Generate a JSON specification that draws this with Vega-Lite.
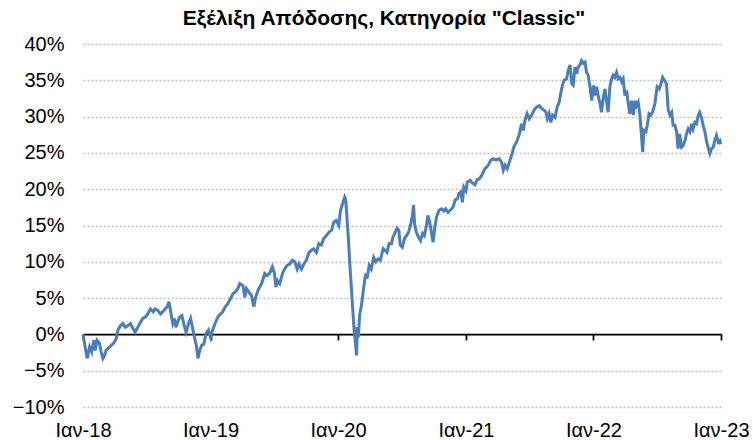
{
  "$schema": "https://vega.github.io/schema/vega-lite/v6.json",
  "width": 638,
  "height": 363,
  "autosize": {"type": "none"},
  "padding": {"left": 83, "top": 44, "right": 32, "bottom": 33},
  "background": "white",
  "title": {
    "text": "Εξέλιξη Απόδοσης, Κατηγορία \"Classic\"",
    "font": "Liberation Sans",
    "fontSize": 21,
    "fontWeight": "bold",
    "color": "#000000",
    "anchor": "middle",
    "dx": -18,
    "offset": 5
  },
  "config": {
    "view": {"stroke": null},
    "axis": {"labelFont": "Liberation Sans", "labelFontSize": 20, "labelColor": "#000000"}
  },
  "data": {
    "values": [
      {"date": "2018-01-01", "ret": 0.0},
      {"date": "2018-01-07", "ret": -0.017},
      {"date": "2018-01-13", "ret": -0.033},
      {"date": "2018-01-20", "ret": -0.017},
      {"date": "2018-01-26", "ret": -0.024},
      {"date": "2018-02-01", "ret": -0.008},
      {"date": "2018-02-05", "ret": -0.022},
      {"date": "2018-02-10", "ret": -0.008},
      {"date": "2018-02-17", "ret": -0.012},
      {"date": "2018-02-22", "ret": -0.024},
      {"date": "2018-02-27", "ret": -0.033},
      {"date": "2018-03-04", "ret": -0.029},
      {"date": "2018-03-08", "ret": -0.022},
      {"date": "2018-03-15", "ret": -0.019},
      {"date": "2018-03-23", "ret": -0.015},
      {"date": "2018-03-30", "ret": -0.012},
      {"date": "2018-04-06", "ret": -0.006},
      {"date": "2018-04-11", "ret": 0.006},
      {"date": "2018-04-18", "ret": 0.012},
      {"date": "2018-04-25", "ret": 0.015},
      {"date": "2018-05-02", "ret": 0.010},
      {"date": "2018-05-09", "ret": 0.012},
      {"date": "2018-05-17", "ret": 0.015},
      {"date": "2018-05-24", "ret": 0.008},
      {"date": "2018-05-30", "ret": 0.003},
      {"date": "2018-06-07", "ret": 0.010},
      {"date": "2018-06-15", "ret": 0.017},
      {"date": "2018-06-21", "ret": 0.022},
      {"date": "2018-06-28", "ret": 0.024},
      {"date": "2018-07-05", "ret": 0.028},
      {"date": "2018-07-13", "ret": 0.035},
      {"date": "2018-07-21", "ret": 0.031},
      {"date": "2018-07-26", "ret": 0.035},
      {"date": "2018-08-03", "ret": 0.033},
      {"date": "2018-08-11", "ret": 0.028},
      {"date": "2018-08-17", "ret": 0.031},
      {"date": "2018-08-24", "ret": 0.035},
      {"date": "2018-08-30", "ret": 0.038},
      {"date": "2018-09-04", "ret": 0.045},
      {"date": "2018-09-10", "ret": 0.028},
      {"date": "2018-09-15", "ret": 0.015},
      {"date": "2018-09-20", "ret": 0.022},
      {"date": "2018-09-24", "ret": 0.010},
      {"date": "2018-09-29", "ret": 0.017},
      {"date": "2018-10-05", "ret": 0.024},
      {"date": "2018-10-11", "ret": 0.026},
      {"date": "2018-10-16", "ret": 0.015},
      {"date": "2018-10-23", "ret": 0.003},
      {"date": "2018-10-30", "ret": 0.015},
      {"date": "2018-11-05", "ret": 0.022},
      {"date": "2018-11-10", "ret": 0.010},
      {"date": "2018-11-16", "ret": -0.004},
      {"date": "2018-11-22", "ret": -0.017},
      {"date": "2018-11-26", "ret": -0.033},
      {"date": "2018-12-01", "ret": -0.022},
      {"date": "2018-12-07", "ret": -0.015},
      {"date": "2018-12-13", "ret": -0.013},
      {"date": "2018-12-19", "ret": 0.001},
      {"date": "2018-12-26", "ret": 0.006},
      {"date": "2019-01-01", "ret": -0.004},
      {"date": "2019-01-07", "ret": 0.006},
      {"date": "2019-01-14", "ret": 0.015},
      {"date": "2019-01-22", "ret": 0.024},
      {"date": "2019-01-29", "ret": 0.028},
      {"date": "2019-02-05", "ret": 0.031},
      {"date": "2019-02-12", "ret": 0.038},
      {"date": "2019-02-19", "ret": 0.042},
      {"date": "2019-02-27", "ret": 0.049},
      {"date": "2019-03-06", "ret": 0.056},
      {"date": "2019-03-12", "ret": 0.058},
      {"date": "2019-03-20", "ret": 0.063},
      {"date": "2019-03-26", "ret": 0.070},
      {"date": "2019-04-04", "ret": 0.067},
      {"date": "2019-04-09", "ret": 0.051},
      {"date": "2019-04-14", "ret": 0.063},
      {"date": "2019-04-21", "ret": 0.058},
      {"date": "2019-04-28", "ret": 0.054},
      {"date": "2019-05-05", "ret": 0.038},
      {"date": "2019-05-10", "ret": 0.051},
      {"date": "2019-05-17", "ret": 0.061},
      {"date": "2019-05-24", "ret": 0.067},
      {"date": "2019-05-30", "ret": 0.074},
      {"date": "2019-06-05", "ret": 0.084},
      {"date": "2019-06-12", "ret": 0.081},
      {"date": "2019-06-19", "ret": 0.084},
      {"date": "2019-06-27", "ret": 0.093},
      {"date": "2019-07-03", "ret": 0.084},
      {"date": "2019-07-07", "ret": 0.065},
      {"date": "2019-07-12", "ret": 0.074},
      {"date": "2019-07-18", "ret": 0.070},
      {"date": "2019-07-26", "ret": 0.084},
      {"date": "2019-08-01", "ret": 0.090},
      {"date": "2019-08-08", "ret": 0.095},
      {"date": "2019-08-16", "ret": 0.097},
      {"date": "2019-08-23", "ret": 0.102},
      {"date": "2019-08-30", "ret": 0.100},
      {"date": "2019-09-06", "ret": 0.090},
      {"date": "2019-09-11", "ret": 0.097},
      {"date": "2019-09-18", "ret": 0.090},
      {"date": "2019-09-25", "ret": 0.097},
      {"date": "2019-10-02", "ret": 0.102},
      {"date": "2019-10-10", "ret": 0.113},
      {"date": "2019-10-17", "ret": 0.116},
      {"date": "2019-10-23", "ret": 0.118},
      {"date": "2019-10-31", "ret": 0.113},
      {"date": "2019-11-07", "ret": 0.125},
      {"date": "2019-11-14", "ret": 0.123},
      {"date": "2019-11-21", "ret": 0.132},
      {"date": "2019-11-29", "ret": 0.136},
      {"date": "2019-12-06", "ret": 0.141},
      {"date": "2019-12-13", "ret": 0.143},
      {"date": "2019-12-20", "ret": 0.155},
      {"date": "2019-12-27", "ret": 0.157},
      {"date": "2020-01-03", "ret": 0.150},
      {"date": "2020-01-08", "ret": 0.171},
      {"date": "2020-01-14", "ret": 0.180},
      {"date": "2020-01-20", "ret": 0.189},
      {"date": "2020-01-23", "ret": 0.185},
      {"date": "2020-01-27", "ret": 0.157},
      {"date": "2020-01-31", "ret": 0.129},
      {"date": "2020-02-03", "ret": 0.102},
      {"date": "2020-02-08", "ret": 0.065},
      {"date": "2020-02-13", "ret": 0.028},
      {"date": "2020-02-16", "ret": 0.006},
      {"date": "2020-02-20", "ret": -0.013},
      {"date": "2020-02-23", "ret": -0.029},
      {"date": "2020-02-25", "ret": 0.010},
      {"date": "2020-02-28", "ret": -0.004},
      {"date": "2020-03-03", "ret": 0.028},
      {"date": "2020-03-08", "ret": 0.040},
      {"date": "2020-03-14", "ret": 0.063},
      {"date": "2020-03-20", "ret": 0.084},
      {"date": "2020-03-24", "ret": 0.077},
      {"date": "2020-03-30", "ret": 0.095},
      {"date": "2020-04-05", "ret": 0.090},
      {"date": "2020-04-12", "ret": 0.106},
      {"date": "2020-04-18", "ret": 0.100},
      {"date": "2020-04-24", "ret": 0.104},
      {"date": "2020-05-01", "ret": 0.102},
      {"date": "2020-05-09", "ret": 0.118},
      {"date": "2020-05-14", "ret": 0.116},
      {"date": "2020-05-20", "ret": 0.113},
      {"date": "2020-05-26", "ret": 0.125},
      {"date": "2020-06-02", "ret": 0.125},
      {"date": "2020-06-06", "ret": 0.134},
      {"date": "2020-06-13", "ret": 0.141},
      {"date": "2020-06-18", "ret": 0.146},
      {"date": "2020-06-23", "ret": 0.143},
      {"date": "2020-06-27", "ret": 0.123},
      {"date": "2020-07-03", "ret": 0.120},
      {"date": "2020-07-09", "ret": 0.132},
      {"date": "2020-07-15", "ret": 0.136},
      {"date": "2020-07-21", "ret": 0.141},
      {"date": "2020-07-27", "ret": 0.152},
      {"date": "2020-08-01", "ret": 0.164},
      {"date": "2020-08-04", "ret": 0.178},
      {"date": "2020-08-07", "ret": 0.152},
      {"date": "2020-08-12", "ret": 0.141},
      {"date": "2020-08-18", "ret": 0.134},
      {"date": "2020-08-24", "ret": 0.129},
      {"date": "2020-08-30", "ret": 0.139},
      {"date": "2020-09-04", "ret": 0.136},
      {"date": "2020-09-10", "ret": 0.150},
      {"date": "2020-09-14", "ret": 0.164},
      {"date": "2020-09-19", "ret": 0.155},
      {"date": "2020-09-24", "ret": 0.141},
      {"date": "2020-09-29", "ret": 0.127},
      {"date": "2020-10-04", "ret": 0.148},
      {"date": "2020-10-09", "ret": 0.162},
      {"date": "2020-10-16", "ret": 0.171},
      {"date": "2020-10-23", "ret": 0.173},
      {"date": "2020-10-30", "ret": 0.170},
      {"date": "2020-11-04", "ret": 0.173},
      {"date": "2020-11-11", "ret": 0.168},
      {"date": "2020-11-17", "ret": 0.171},
      {"date": "2020-11-25", "ret": 0.175},
      {"date": "2020-12-01", "ret": 0.185},
      {"date": "2020-12-08", "ret": 0.187},
      {"date": "2020-12-12", "ret": 0.194},
      {"date": "2020-12-17", "ret": 0.196},
      {"date": "2020-12-22", "ret": 0.182},
      {"date": "2020-12-26", "ret": 0.203},
      {"date": "2021-01-01", "ret": 0.198},
      {"date": "2021-01-05", "ret": 0.210},
      {"date": "2021-01-13", "ret": 0.212},
      {"date": "2021-01-20", "ret": 0.208},
      {"date": "2021-01-27", "ret": 0.206},
      {"date": "2021-02-02", "ret": 0.213},
      {"date": "2021-02-08", "ret": 0.214},
      {"date": "2021-02-15", "ret": 0.219},
      {"date": "2021-02-24", "ret": 0.228},
      {"date": "2021-03-06", "ret": 0.233},
      {"date": "2021-03-13", "ret": 0.240},
      {"date": "2021-03-20", "ret": 0.242},
      {"date": "2021-03-28", "ret": 0.240},
      {"date": "2021-04-06", "ret": 0.242},
      {"date": "2021-04-13", "ret": 0.237},
      {"date": "2021-04-18", "ret": 0.226},
      {"date": "2021-04-23", "ret": 0.233},
      {"date": "2021-04-29", "ret": 0.228},
      {"date": "2021-05-05", "ret": 0.237},
      {"date": "2021-05-12", "ret": 0.247},
      {"date": "2021-05-18", "ret": 0.258},
      {"date": "2021-05-26", "ret": 0.265},
      {"date": "2021-06-03", "ret": 0.276},
      {"date": "2021-06-09", "ret": 0.290},
      {"date": "2021-06-14", "ret": 0.281},
      {"date": "2021-06-19", "ret": 0.295},
      {"date": "2021-06-25", "ret": 0.304},
      {"date": "2021-07-01", "ret": 0.297},
      {"date": "2021-07-08", "ret": 0.302},
      {"date": "2021-07-15", "ret": 0.309},
      {"date": "2021-07-22", "ret": 0.313},
      {"date": "2021-07-30", "ret": 0.315},
      {"date": "2021-08-06", "ret": 0.311},
      {"date": "2021-08-12", "ret": 0.309},
      {"date": "2021-08-18", "ret": 0.306},
      {"date": "2021-08-22", "ret": 0.297},
      {"date": "2021-08-27", "ret": 0.304},
      {"date": "2021-09-01", "ret": 0.292},
      {"date": "2021-09-06", "ret": 0.302},
      {"date": "2021-09-13", "ret": 0.299},
      {"date": "2021-09-19", "ret": 0.313},
      {"date": "2021-09-25", "ret": 0.320},
      {"date": "2021-09-29", "ret": 0.331},
      {"date": "2021-10-04", "ret": 0.343},
      {"date": "2021-10-09", "ret": 0.350},
      {"date": "2021-10-16", "ret": 0.352},
      {"date": "2021-10-21", "ret": 0.364},
      {"date": "2021-10-26", "ret": 0.371},
      {"date": "2021-10-31", "ret": 0.345},
      {"date": "2021-11-04", "ret": 0.343},
      {"date": "2021-11-09", "ret": 0.368},
      {"date": "2021-11-14", "ret": 0.359},
      {"date": "2021-11-18", "ret": 0.368},
      {"date": "2021-11-23", "ret": 0.371},
      {"date": "2021-11-28", "ret": 0.377},
      {"date": "2021-12-03", "ret": 0.373},
      {"date": "2021-12-08", "ret": 0.375},
      {"date": "2021-12-12", "ret": 0.361},
      {"date": "2021-12-17", "ret": 0.357},
      {"date": "2021-12-22", "ret": 0.341},
      {"date": "2021-12-27", "ret": 0.322},
      {"date": "2022-01-01", "ret": 0.343},
      {"date": "2022-01-05", "ret": 0.329},
      {"date": "2022-01-10", "ret": 0.341},
      {"date": "2022-01-15", "ret": 0.327},
      {"date": "2022-01-19", "ret": 0.320},
      {"date": "2022-01-24", "ret": 0.306},
      {"date": "2022-01-29", "ret": 0.327},
      {"date": "2022-02-03", "ret": 0.338},
      {"date": "2022-02-07", "ret": 0.322},
      {"date": "2022-02-12", "ret": 0.306},
      {"date": "2022-02-17", "ret": 0.341},
      {"date": "2022-02-22", "ret": 0.352},
      {"date": "2022-02-26", "ret": 0.357},
      {"date": "2022-03-03", "ret": 0.354},
      {"date": "2022-03-08", "ret": 0.361},
      {"date": "2022-03-13", "ret": 0.352},
      {"date": "2022-03-18", "ret": 0.354},
      {"date": "2022-03-23", "ret": 0.348},
      {"date": "2022-03-27", "ret": 0.352},
      {"date": "2022-04-01", "ret": 0.329},
      {"date": "2022-04-06", "ret": 0.336},
      {"date": "2022-04-10", "ret": 0.320},
      {"date": "2022-04-15", "ret": 0.304},
      {"date": "2022-04-20", "ret": 0.322},
      {"date": "2022-04-25", "ret": 0.302},
      {"date": "2022-04-30", "ret": 0.322},
      {"date": "2022-05-04", "ret": 0.315},
      {"date": "2022-05-09", "ret": 0.320},
      {"date": "2022-05-14", "ret": 0.302},
      {"date": "2022-05-19", "ret": 0.270},
      {"date": "2022-05-22", "ret": 0.251},
      {"date": "2022-05-25", "ret": 0.281},
      {"date": "2022-05-31", "ret": 0.279},
      {"date": "2022-06-04", "ret": 0.288},
      {"date": "2022-06-09", "ret": 0.304},
      {"date": "2022-06-14", "ret": 0.302},
      {"date": "2022-06-19", "ret": 0.306},
      {"date": "2022-06-26", "ret": 0.318},
      {"date": "2022-07-02", "ret": 0.341},
      {"date": "2022-07-08", "ret": 0.338},
      {"date": "2022-07-13", "ret": 0.345},
      {"date": "2022-07-18", "ret": 0.354},
      {"date": "2022-07-23", "ret": 0.350},
      {"date": "2022-07-29", "ret": 0.345},
      {"date": "2022-08-03", "ret": 0.309},
      {"date": "2022-08-08", "ret": 0.302},
      {"date": "2022-08-13", "ret": 0.306},
      {"date": "2022-08-17", "ret": 0.288},
      {"date": "2022-08-22", "ret": 0.288},
      {"date": "2022-08-27", "ret": 0.279},
      {"date": "2022-08-31", "ret": 0.256},
      {"date": "2022-09-05", "ret": 0.276},
      {"date": "2022-09-10", "ret": 0.258},
      {"date": "2022-09-15", "ret": 0.260},
      {"date": "2022-09-20", "ret": 0.267},
      {"date": "2022-09-24", "ret": 0.276},
      {"date": "2022-09-29", "ret": 0.283},
      {"date": "2022-10-04", "ret": 0.279},
      {"date": "2022-10-09", "ret": 0.290},
      {"date": "2022-10-13", "ret": 0.283},
      {"date": "2022-10-18", "ret": 0.292},
      {"date": "2022-10-23", "ret": 0.290},
      {"date": "2022-10-28", "ret": 0.302},
      {"date": "2022-11-01", "ret": 0.306},
      {"date": "2022-11-06", "ret": 0.299},
      {"date": "2022-11-11", "ret": 0.288},
      {"date": "2022-11-16", "ret": 0.279},
      {"date": "2022-11-21", "ret": 0.265},
      {"date": "2022-11-25", "ret": 0.258},
      {"date": "2022-11-30", "ret": 0.249},
      {"date": "2022-12-05", "ret": 0.256},
      {"date": "2022-12-10", "ret": 0.258},
      {"date": "2022-12-14", "ret": 0.267},
      {"date": "2022-12-19", "ret": 0.274},
      {"date": "2022-12-24", "ret": 0.265},
      {"date": "2022-12-29", "ret": 0.267},
      {"date": "2022-12-31", "ret": 0.262}
    ]
  },
  "mark": {"type": "line", "color": "#4a7ebb", "strokeWidth": 3, "interpolate": "linear", "clip": false},
  "encoding": {
    "x": {
      "field": "date",
      "type": "temporal",
      "scale": {"type": "utc", "domain": [{"year": 2018, "month": 1, "date": 1, "utc": true}, {"year": 2023, "month": 1, "date": 1, "utc": true}], "nice": false},
      "axis": {
        "title": null,
        "orient": "bottom",
        "offset": -73,
        "values": [
          {"year": 2018, "month": 1, "date": 1, "utc": true},
          {"year": 2019, "month": 1, "date": 1, "utc": true},
          {"year": 2020, "month": 1, "date": 1, "utc": true},
          {"year": 2021, "month": 1, "date": 1, "utc": true},
          {"year": 2022, "month": 1, "date": 1, "utc": true},
          {"year": 2023, "month": 1, "date": 1, "utc": true}
        ],
        "labelExpr": "'Ιαν-' + utcFormat(datum.value, '%y')",
        "labelPadding": 80,
        "labelAlign": "center",
        "labelFlush": false,
        "labelOverlap": false,
        "domain": true,
        "domainColor": "#000000",
        "domainWidth": 1.75,
        "ticks": true,
        "tickColor": "#000000",
        "tickWidth": 1.75,
        "tickSize": 6,
        "grid": false
      }
    },
    "y": {
      "field": "ret",
      "type": "quantitative",
      "scale": {"domain": [-0.1, 0.4], "nice": false, "zero": false},
      "axis": {
        "title": null,
        "values": [-0.1, -0.05, 0, 0.05, 0.1, 0.15, 0.2, 0.25, 0.3, 0.35, 0.4],
        "format": ".0%",
        "domain": false,
        "ticks": false,
        "tickSize": 0,
        "labelPadding": 19,
        "grid": true,
        "gridColor": "#bfbfbf",
        "gridDash": [2, 2],
        "gridWidth": 1.5
      }
    }
  }
}
